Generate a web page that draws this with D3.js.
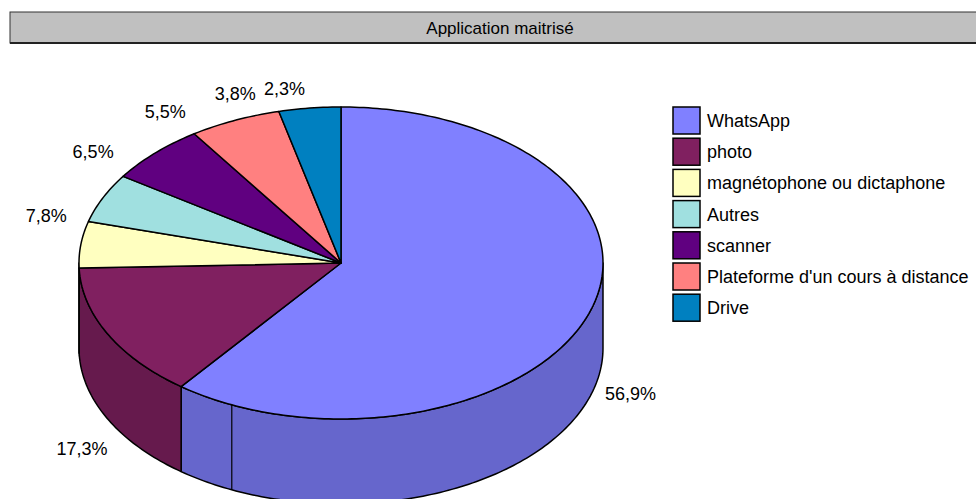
<!DOCTYPE html>
<html lang="fr">
<head>
<meta charset="UTF-8">
<title>Application maitrisé</title>
<script src="https://cdn.jsdelivr.net/npm/d3@7"></script>
<style>
  body { margin: 0; background: #fff; }
  svg { display: block; font-family: "Liberation Sans", Arial, sans-serif; }
</style>
</head>
<body>
<div id="chart"></div>
<script>
// data
const categories = ["WhatsApp", "photo", "magnétophone ou dictaphone", "Autres", "scanner", "Plateforme d'un cours à distance", "Drive"];
const values = [56.9, 17.3, 7.8, 6.5, 5.5, 3.8, 2.3];
const topColors = ["#8080ff", "#802060", "#ffffc0", "#a0e0e0", "#600080", "#ff8080", "#0080c0"];
const sideColors = ["#6666cc", "#661a4d", "#cccc9a", "#80b3b3", "#4d0066", "#cc6666", "#006699"];
const title = "Application maitrisé";

const width = 976, height = 499;
const cx = 341, cy = 263, rx = 262, ry = 156, depth = 85;
const k = rx / ry;

const svg = d3.select("#chart").append("svg")
    .attr("width", width)
    .attr("height", height);

// title bar
svg.append("rect")
    .attr("x", 10).attr("y", 12)
    .attr("width", 990).attr("height", 31)
    .attr("fill", "#c0c0c0")
    .attr("stroke", "#333").attr("stroke-width", 1);
svg.append("line")
    .attr("x1", 10).attr("x2", 1000)
    .attr("y1", 43).attr("y2", 43)
    .attr("stroke", "#222").attr("stroke-width", 2);
svg.append("text")
    .attr("x", 500).attr("y", 34)
    .attr("text-anchor", "middle")
    .attr("font-size", 17)
    .attr("fill", "#000")
    .text(title);

const pie = d3.pie().sort(null).startAngle(0).endAngle(2 * Math.PI);
const arcs = pie(values);

// pie angle -> ellipse parameter (3D look)
function param(a) {
    let t = Math.atan2(k * Math.sin(a), Math.cos(a));
    t += 2 * Math.PI * Math.round((a - t) / (2 * Math.PI));
    return t;
}
function pt(t, dy = 0) {
    return [cx + rx * Math.sin(t), cy - ry * Math.cos(t) + dy];
}
function arcPts(t0, t1, dy = 0) {
    const n = Math.max(2, Math.ceil(Math.abs(t1 - t0) / (Math.PI / 180)));
    return d3.range(n + 1).map(i => pt(t0 + (t1 - t0) * i / n, dy));
}

const line = d3.line();

// side faces (front half only)
const sides = svg.append("g");
arcs.forEach((d, i) => {
    const t0 = Math.max(param(d.startAngle), Math.PI / 2);
    const t1 = Math.min(param(d.endAngle), 3 * Math.PI / 2);
    if (t1 <= t0) return;
    const top = arcPts(t0, t1, 0);
    const bottom = arcPts(t1, t0, depth);
    sides.append("path")
        .attr("d", line(top.concat(bottom)) + "Z")
        .attr("fill", sideColors[i])
        .attr("stroke", "#000")
        .attr("stroke-width", 1.5)
        .attr("stroke-linejoin", "round");
    // seam where the face is split
    const s = d.endAngle;
    if (s > t0 && s < t1) {
        const [x, y] = pt(s);
        sides.append("line")
            .attr("x1", x).attr("x2", x)
            .attr("y1", y).attr("y2", y + depth)
            .attr("stroke", "#000").attr("stroke-width", 1.2);
    }
});

// top faces
const tops = svg.append("g");
arcs.forEach((d, i) => {
    const pts = [[cx, cy]].concat(arcPts(param(d.startAngle), param(d.endAngle)));
    tops.append("path")
        .attr("d", line(pts) + "Z")
        .attr("fill", topColors[i])
        .attr("stroke", "#000")
        .attr("stroke-width", 1.5)
        .attr("stroke-linejoin", "round");
});

// data labels
const fmt = v => d3.format(".1f")(v).replace(".", ",") + "%";
svg.append("g")
    .attr("font-size", 18)
    .attr("fill", "#000")
    .selectAll("text")
    .data(arcs)
    .join("text")
    .each(function(d) {
        const a = (d.startAngle + d.endAngle) / 2;
        const ex = cx + rx * Math.sin(a);
        const ey = cy - ry * Math.cos(a);
        const right = Math.sin(a) >= 0;
        const upper = Math.cos(a) > 0;
        d3.select(this)
            .attr("x", right ? ex + 8 : ex - 17)
            .attr("y", upper ? ey - 12 : ey + depth + 19)
            .attr("text-anchor", right ? "start" : "end");
    })
    .text(d => fmt(d.data));

// legend
const legend = svg.append("g").attr("transform", "translate(673,107)");
const rows = legend.selectAll("g")
    .data(categories)
    .join("g")
    .attr("transform", (d, i) => `translate(0,${i * 31.2})`);
rows.append("rect")
    .attr("width", 27).attr("height", 27)
    .attr("fill", (d, i) => topColors[i])
    .attr("stroke", "#000").attr("stroke-width", 1.5);
rows.append("text")
    .attr("x", 34).attr("y", 20)
    .attr("font-size", 18)
    .attr("fill", "#000")
    .text(d => d);
</script>
</body>
</html>
